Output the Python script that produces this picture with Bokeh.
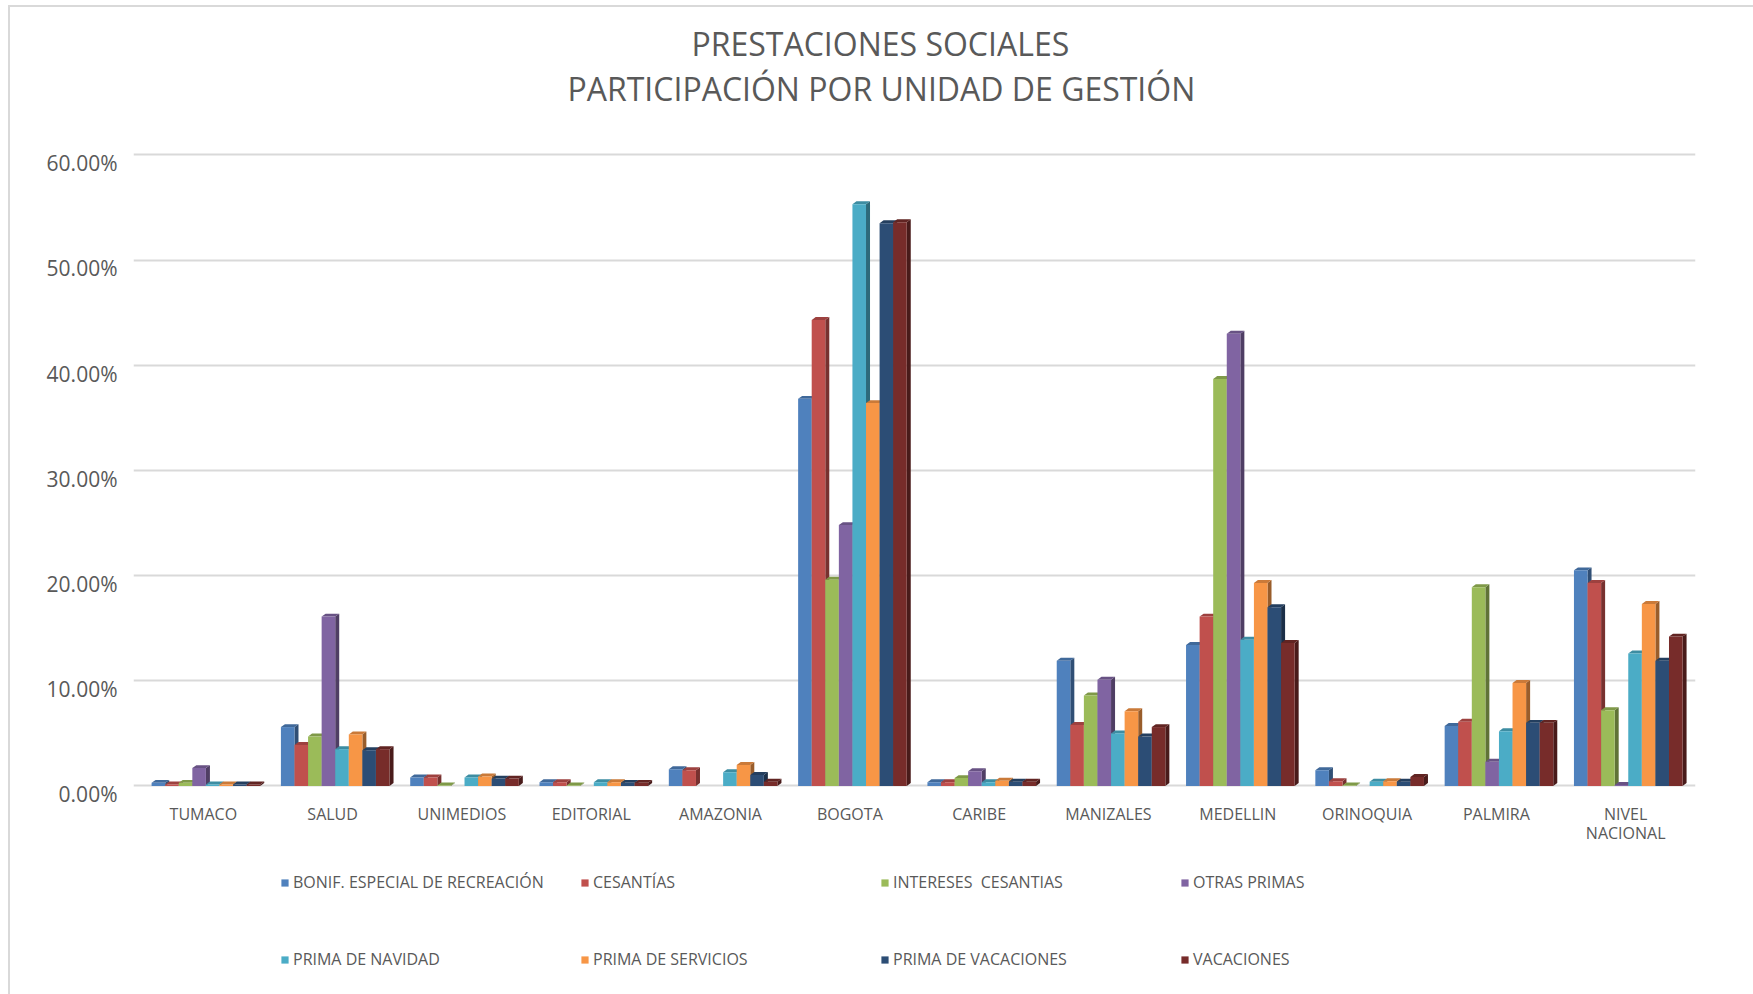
from bokeh.plotting import figure
from bokeh.layouts import column
from bokeh.models import FactorRange, Range1d, FixedTicker, Legend, LegendItem, Title, InlineStyleSheet
from bokeh.embed import file_html
from bokeh.resources import INLINE

# ---------------- data ----------------
categories = ["TUMACO", "SALUD", "UNIMEDIOS", "EDITORIAL", "AMAZONIA", "BOGOTA",
              "CARIBE", "MANIZALES", "MEDELLIN", "ORINOQUIA", "PALMIRA", "NIVEL\nNACIONAL"]

series_names = ["BONIF. ESPECIAL DE RECREACIÓN", "CESANTÍAS", "INTERESES  CESANTIAS", "OTRAS PRIMAS",
                "PRIMA DE NAVIDAD", "PRIMA DE SERVICIOS", "PRIMA DE VACACIONES", "VACACIONES"]

# values in percent (None = no bar)
bonif            = [0.30, 5.6, 0.80, 0.35, 1.60, 36.8, 0.35, 11.9, 13.4, 1.50, 5.7, 20.5]
cesantias        = [0.15, 3.9, 0.80, 0.35, 1.50, 44.3, 0.35, 5.8, 16.1, 0.45, 6.1, 19.3]
intereses        = [0.30, 4.7, 0.05, 0.05, None, 19.6, 0.75, 8.6, 38.7, 0.05, 18.9, 7.2]
otras_primas     = [1.70, 16.1, None, None, None, 24.8, 1.40, 10.1, 43.0, None, 2.3, 0.1]
prima_navidad    = [0.15, 3.5, 0.80, 0.35, 1.30, 55.3, 0.35, 5.0, 13.9, 0.40, 5.2, 12.6]
prima_servicios  = [0.15, 4.9, 0.90, 0.35, 2.00, 36.4, 0.50, 7.1, 19.3, 0.45, 9.8, 17.3]
prima_vacaciones = [0.15, 3.4, 0.70, 0.30, 1.05, 53.5, 0.40, 4.7, 17.0, 0.40, 6.0, 11.9]
vacaciones       = [0.15, 3.5, 0.70, 0.30, 0.40, 53.6, 0.40, 5.6, 13.6, 0.85, 6.0, 14.2]

series_values = [bonif, cesantias, intereses, otras_primas,
                 prima_navidad, prima_servicios, prima_vacaciones, vacaciones]

title_lines = ["PRESTACIONES SOCIALES", "PARTICIPACIÓN POR  UNIDAD DE GESTIÓN"]
y_ticks = [0, 10, 20, 30, 40, 50, 60]
y_tick_labels = ["%.2f%%" % t for t in y_ticks]

# ---------------- style ----------------
colors = ["#4F81BD", "#C0504D", "#9BBB59", "#8064A2", "#4BACC6", "#F79646", "#2C4D75", "#772C2A"]
FONT = "Open Sans"
TEXT = "#595959"
LABEL_DROP = 0.8   # y labels sit slightly below their gridline (3-D floor look)


def shade(hex_color, f):
    r, g, b = (int(hex_color[i:i + 2], 16) for i in (1, 3, 5))
    return "#%02x%02x%02x" % (int(r * f), int(g * f), int(b * f))


MAIN_H = 862
PX_PER_UNIT = 631 / 60.0
Y_START, Y_END = -1.0, 60.6
FRAME_TOP = int(round(154 - (Y_END - 60) * PX_PER_UNIT))
frame_h = (Y_END - Y_START) * PX_PER_UNIT
p = figure(width=1753, height=MAIN_H,
           x_range=FactorRange(factors=categories, range_padding=0.04, range_padding_units="absolute"),
           y_range=Range1d(Y_START, Y_END),
           output_backend="svg", toolbar_location=None,
           min_border_left=133, min_border_right=58, min_border_top=FRAME_TOP,
           min_border_bottom=int(round(MAIN_H - FRAME_TOP - frame_h)),
           title=title_lines[0])

# pseudo-3D clustered columns
n = len(series_names)
bw = 0.105     # bar width (category units)
dx = 0.031     # depth offset x
dy = 0.28      # depth offset y (percent units)
bar_data = []
for k in range(n):
    vals = series_values[k]
    c = colors[k]
    lefts, rights, tops = [], [], []
    sxs, sys, txs, tys = [], [], [], []
    for i, v in enumerate(vals):
        if v is None:
            continue
        xl = i + 0.5 + (k - n / 2) * bw + 0.02
        xr = xl + bw
        lefts.append(xl)
        rights.append(xr)
        tops.append(v)
        sxs.append([xr, xr + dx, xr + dx, xr])
        sys.append([0, dy, v + dy, v])
        txs.append([xl, xl + dx, xr + dx, xr])
        tys.append([v, v + dy, v + dy, v])
    p.patches(sxs, sys, fill_color=shade(c, 0.62), line_color=None)
    p.patches(txs, tys, fill_color=shade(c, 0.82), line_color=None)
    p.quad(left=lefts, right=rights, bottom=0, top=tops, fill_color=c, line_color=None)
    bar_data.append((lefts, rights, tops))

# axes
p.xaxis.major_label_text_font = FONT
p.xaxis.major_label_text_font_size = "16px"
p.xaxis.major_label_text_color = TEXT
p.xaxis.major_label_text_line_height = 0.9
p.xaxis.major_label_standoff = 0
p.xaxis.axis_line_color = None
p.xaxis.major_tick_line_color = None
p.xaxis.minor_tick_line_color = None
p.xgrid.grid_line_color = None

label_ticks = [round(t - LABEL_DROP, 3) for t in y_ticks]
p.yaxis.ticker = FixedTicker(ticks=label_ticks)
p.yaxis.major_label_overrides = {lt: lab for lt, lab in zip(label_ticks, y_tick_labels)}
p.yaxis.major_label_text_font = FONT
p.yaxis.major_label_text_font_size = "21px"
p.yaxis.major_label_text_color = TEXT
p.yaxis.major_label_standoff = 10
p.yaxis.axis_line_color = None
p.yaxis.major_tick_line_color = None
p.yaxis.minor_tick_line_color = None
p.ygrid.ticker = FixedTicker(ticks=y_ticks)
p.ygrid.grid_line_color = "#d9d9d9"
p.ygrid.grid_line_width = 2
p.outline_line_color = None

# title: p.title is outermost; added titles stack outward from the frame
title_kw = dict(align="left", text_font=FONT, text_font_size="32px",
                text_font_style="normal", text_color=TEXT, standoff=0)
for key, val in title_kw.items():
    setattr(p.title, key, val)
p.title.offset = 558
p.add_layout(Title(text=" ", align="left", text_font=FONT, text_font_size="27px", standoff=0), "above")
p.add_layout(Title(text=title_lines[1], offset=434, **title_kw), "above")

# legend: separate strip below the chart, two rows of four items
LEG_H = 994 - MAIN_H
lf = figure(width=1753, height=LEG_H, output_backend="svg", toolbar_location=None,
            x_range=Range1d(0, 1), y_range=Range1d(0, 1),
            x_axis_type=None, y_axis_type=None, min_border=0)
lf.outline_line_color = None
lf.grid.visible = False
items = []
for k in range(n):
    lefts, rights, tops = bar_data[k]
    r = lf.quad(left=lefts, right=rights, bottom=0, top=tops, fill_color=colors[k],
                line_color=None, visible=False)
    items.append(LegendItem(label=series_names[k], renderers=[r]))

ITEM_H = 20
leg_kw = dict(orientation="horizontal",
              label_text_font=FONT, label_text_font_size="16px", label_text_color=TEXT,
              glyph_width=9, glyph_height=9, label_standoff=4,
              label_width=280, label_height=ITEM_H, spacing=7, padding=0, margin=0,
              inactive_fill_alpha=0,
              border_line_color=None, background_fill_alpha=0)
row_centers = [883, 960]
for r_i, rc in enumerate(row_centers):
    top_local = rc - MAIN_H - ITEM_H / 2
    leg = Legend(items=items[4 * r_i:4 * r_i + 4],
                 location=(147, LEG_H - ITEM_H - top_local), **leg_kw)
    lf.add_layout(leg)

layout = column(p, lf, spacing=0)
# light chart-area frame line on the left and top, as in the source
layout.stylesheets = [InlineStyleSheet(css=(
    ":host::after { content: ''; position: absolute; left: 8px; top: 5px; right: 0; bottom: 0;"
    " border-left: 2px solid #d9d9d9; border-top: 2px solid #d9d9d9;"
    " pointer-events: none; z-index: 10; }"))]
open("out.html", "w").write(file_html(layout, INLINE))
